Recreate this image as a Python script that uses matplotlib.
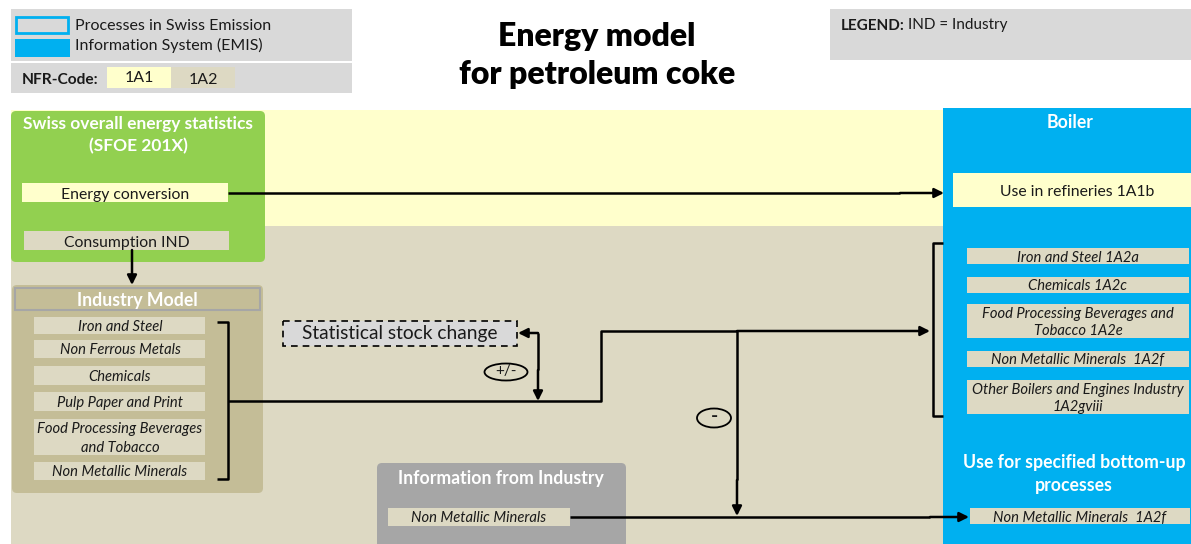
import matplotlib
import matplotlib.pyplot as plt
from matplotlib.patches import Rectangle, FancyBboxPatch, Ellipse

matplotlib.use("Agg")
plt.rcParams["font.family"] = ["Lato", "DejaVu Sans"]

## Texts of the diagram
title_lines = ["Energy model", "for petroleum coke"]
legend_lines = ["Processes in Swiss Emission", "Information System (EMIS)"]
nfr_codes = ["1A1", "1A2"]
stats_title = ["Swiss overall energy statistics", "(SFOE 201X)"]
stats_items = ["Energy conversion", "Consumption IND"]
industry_items = ["Iron and Steel", "Non Ferrous Metals", "Chemicals", "Pulp Paper and Print",
                  "Food Processing Beverages\nand Tobacco", "Non Metallic Minerals"]
boiler_items = ["Iron and Steel 1A2a", "Chemicals 1A2c", "Food Processing Beverages and\nTobacco 1A2e",
                "Non Metallic Minerals  1A2f", "Other Boilers and Engines Industry\n1A2gviii"]
info_item = "Non Metallic Minerals"
bottom_up_title = ["Use for specified bottom-up", "processes"]
bottom_up_item = "Non Metallic Minerals  1A2f"

# colours
YELLOW = "#ffffcc"
TAN = "#ddd9c3"
DARK_TAN = "#c4bd97"
GREEN = "#92d050"
BLUE = "#00b0f0"
GREY = "#d9d9d9"
DGREY = "#a6a6a6"
TXT = "#1a1a1a"

fig = plt.figure(figsize=(11.91, 5.44), dpi=100)
ax = fig.add_axes([0, 0, 1, 1])
ax.set_xlim(0, 1191)
ax.set_ylim(544, 0)
ax.axis("off")


def box(x0, y0, x1, y1, fc, ec="none", lw=0, ls="-", z=1, rounded=False):
    if rounded:
        p = FancyBboxPatch((x0, y0), x1 - x0, y1 - y0, boxstyle="round,pad=0,rounding_size=5",
                           fc=fc, ec=ec, lw=lw, ls=ls, zorder=z)
    else:
        p = Rectangle((x0, y0), x1 - x0, y1 - y0, fc=fc, ec=ec, lw=lw, ls=ls, zorder=z)
    ax.add_patch(p)


def label(x, y, s, size=10, **kw):
    kw.setdefault("color", TXT)
    # small downward nudge: matplotlib centres on the full glyph box
    ax.text(x, y + 1.5, s, fontsize=size, ha=kw.pop("ha", "center"), va="center",
            linespacing=kw.pop("linespacing", 1.38), zorder=10, **kw)


def arrow(xy_from, xy_to):
    ax.annotate("", xy=xy_to, xytext=xy_from, zorder=8,
                arrowprops=dict(arrowstyle="-|>", color="black", lw=1.8,
                                mutation_scale=14, shrinkA=0, shrinkB=0))


def line(xs, ys):
    ax.plot(xs, ys, color="black", lw=1.8, zorder=8, solid_capstyle="butt")


# header legend
box(11, 9, 352, 61, GREY)
box(11, 63, 352, 93, GREY)
box(16, 17, 68, 33, GREY, ec=BLUE, lw=2)
box(15, 39, 70, 57, BLUE)
label(75, 24, legend_lines[0], 11.5, ha="left")
label(75, 44, legend_lines[1], 11.5, ha="left")
label(22, 78, "NFR-Code:", 11.2, ha="left", weight="bold")
box(107, 67, 171, 88, YELLOW)
box(171, 67, 235, 88, TAN)
label(139, 77, nfr_codes[0], 11.5)
label(203, 78, nfr_codes[1], 11.5)

label(597, 35, title_lines[0], 23, weight="heavy", color="black")
label(597, 73, title_lines[1], 23, weight="heavy", color="black")

box(830, 9, 1191, 60, GREY)
label(841, 24, "LEGEND:", 11, ha="left", weight="bold")
label(908, 24, "IND = Industry", 11, ha="left")

# background bands
box(11, 110, 943, 226, YELLOW, z=0)
box(11, 226, 943, 544, TAN, z=0)
box(943, 108, 1191, 544, BLUE, z=0)

# energy statistics
box(11, 111, 265, 262, GREEN, rounded=True)
label(138, 123, stats_title[0], 12.5, weight="bold", color="white")
label(138, 145, stats_title[1], 12.5, weight="bold", color="white")
box(22, 183, 228, 202, YELLOW, z=2)
label(125, 193, stats_items[0], 11.3)
box(24, 231, 229, 250, TAN, z=2)
label(127, 241, stats_items[1], 11.3)
arrow((132, 250), (132, 285))

# industry model
box(12, 285, 263, 493, DARK_TAN, rounded=True)
box(15, 288, 260, 310, DARK_TAN, ec="#a6a6a6", lw=1.5, z=2)
label(137, 299, "Industry Model", 12.7, weight="bold", color="white")
ind_y = [(317, 334), (340, 358), (366, 385), (392, 411), (419, 455), (462, 480)]
for (y0, y1), s in zip(ind_y, industry_items):
    box(34, y0, 205, y1, TAN, z=2)
    label(120, (y0 + y1) / 2, s, 10.6, style="italic")
line([217, 228, 228, 217], [322, 322, 479, 479])
line([228, 601, 601, 737], [401, 401, 331, 331])
arrow((737, 331), (930, 331))

# stock change
box(283, 321, 517, 346, GREY, ec="black", lw=1.2, ls=(0, (4, 3)), z=2)
label(400, 332, "Statistical stock change", 13.8)
line([538, 538], [333, 370])
arrow((538, 370), (538, 401))
arrow((538, 333), (518, 333))
ax.add_patch(Ellipse((506, 372), 43, 17, fc="none", ec="black", lw=1.3, zorder=8))
label(506, 370, "+/-", 11)

# minus branch
line([737, 737], [331, 480])
arrow((737, 480), (737, 516))
ax.add_patch(Ellipse((714, 418), 34, 19, fc="none", ec="black", lw=1.3, zorder=8))
label(714, 415, "-", 14, weight="bold")

# info from industry
box(377, 463, 626, 560, DGREY, rounded=True)
label(501, 477, "Information from Industry", 12.7, weight="bold", color="white")
box(388, 508, 570, 526, TAN, z=2)
label(479, 517, info_item, 10.6, style="italic")
line([570, 930], [517, 517])
arrow((930, 517), (969, 517))

# energy conversion arrow
line([228, 900], [193, 193])
arrow((900, 193), (944, 193))

# boiler panel
label(1070, 121, "Boiler", 12.7, weight="bold", color="white")
box(953, 173, 1191, 207, YELLOW, z=2)
label(1077, 190, "Use in refineries 1A1b", 11.3)
line([943, 933, 933, 943], [243, 243, 416, 416])
boil_y = [(248, 264), (277, 293), (304, 338), (351, 367), (380, 414)]
for (y0, y1), s in zip(boil_y, boiler_items):
    box(967, y0, 1189, y1, TAN, z=2)
    label(1078, (y0 + y1) / 2, s, 10.6, style="italic", linespacing=1.3)
label(1074, 461, bottom_up_title[0], 12.7, weight="bold", color="white")
label(1074, 484, bottom_up_title[1], 12.7, weight="bold", color="white")
box(970, 508, 1190, 524, TAN, z=2)
label(1080, 516, bottom_up_item, 10.6, style="italic")

fig.savefig("out.png", dpi=100)
